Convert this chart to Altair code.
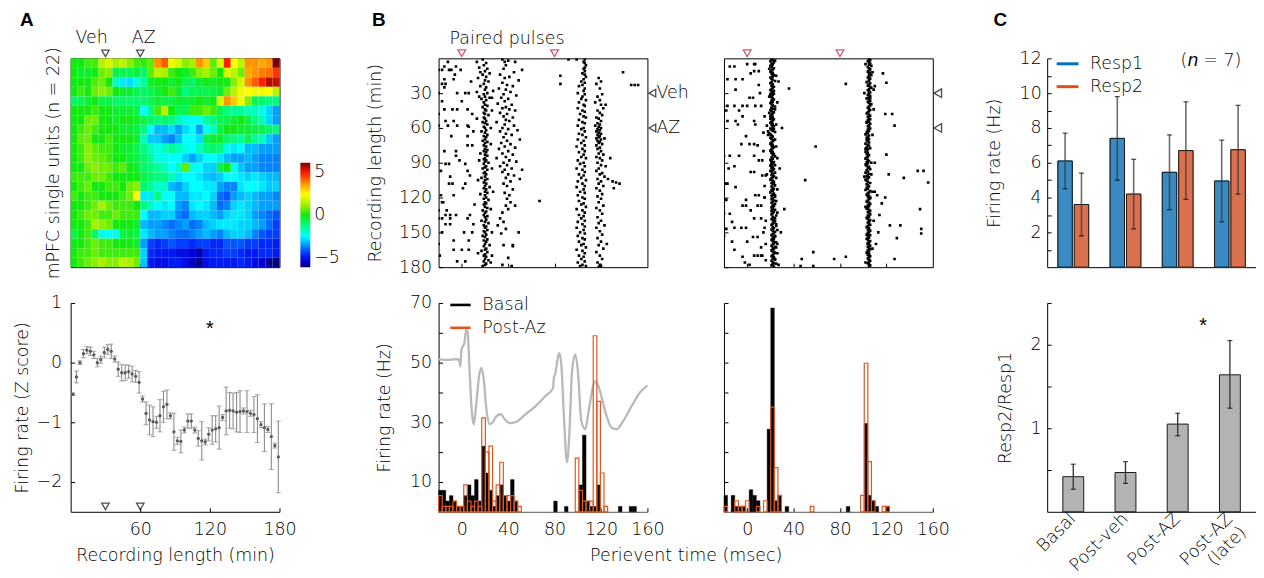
import altair as alt
import pandas as pd

FONT = "DejaVu Sans"
FS = 17.5
FW = 300
TXT = "#000000"
IN = {"expr": "-4"}  # inward ticks

# ---------------- Panel A: heat map (22 units x 30 bins of 6 min) ----------------
heat_rows = [
    [0,0,0.3,0.3,1.2,1.5,1.0,1.2,0.8,0.3,0.2,0.5,3,3.5,1.8,1.5,0.8,1,3,2.5,0.5,1.5,4,2,1.2,3,3,2.8,3,5],
    [0,-0.3,-0.3,0,0.6,0.8,-0.5,-0.6,-0.6,-0.4,-0.8,0.5,1.2,1.0,0.3,0,-0.2,0.3,0.8,1.0,0.6,0,1.5,1.2,0.6,2.8,3,3.2,3.3,3.8],
    [0,0,0,0.4,0.6,0,-1.5,-2.2,-2.3,-1.8,-1.2,-0.2,0,0,-0.3,0,-0.6,-0.8,-0.3,0,-0.2,0,0,0.8,1.5,3,3.5,4,4.6,4.5],
    [0,0.3,0,0.6,0.8,0.6,0,-0.3,-0.3,-0.6,-0.8,-0.6,-0.3,0,0.3,-0.3,-1,-0.6,-0.6,-0.6,-0.5,-0.3,0.6,1.2,1.8,2,1.8,1.8,2,1.2],
    [-0.8,-0.6,-0.3,0,-0.5,-0.5,-0.8,-0.8,-0.8,-0.9,-0.8,-0.6,-0.3,-0.5,-0.5,-0.3,-0.4,-0.3,0,-0.3,0,1.5,3,2.5,1.8,0.8,-0.6,-0.8,-1,-1],
    [0,0,0,0.3,0,0,-0.3,-0.3,-0.3,-0.5,-2,-1,0.3,1.2,0,-0.6,-0.6,0.3,0.3,0.6,0.3,-0.6,-1,-1.2,-1.2,-1.5,-1.5,-1.8,-2.4,-2.8],
    [0,0,0.6,0.6,0,0,-0.3,0,0,-0.3,-0.5,-0.8,-1,-0.8,-1,-1.5,-1.8,-2,-1.8,-1.3,-1,-0.6,-0.5,-0.3,0,-0.5,-1,-1.5,-2.4,-2.8],
    [0,0.3,0.6,0.3,0,0,0,-0.3,-0.3,-0.5,-1,-2,-2.6,-2.6,-2.3,-2.8,-2.3,-2,-2.8,-2,-1.5,-0.5,0,0,-0.3,-0.3,-0.5,-0.5,-0.8,-1],
    [0,0.5,0.6,0,0,0.3,0,0,0,-0.3,-1.5,-2.5,-2.5,-2.8,-3,-2.6,-2,-2,-2.3,-0.5,-0.3,-0.3,-0.8,-1,-1.2,-0.5,-1.2,-1.5,-2.5,-2.8],
    [0,0.3,0.8,0.5,0.3,0.3,0,-0.3,-0.3,-0.6,-1,-1.5,-1.8,-1.5,-1.2,-1.5,-1.8,-2,-1.5,-1,-0.8,-1,-1.8,-2.2,-2,-2.6,-2.6,-2.8,-2.8,-2.8],
    [0,0.3,0.8,0.6,0.5,0.3,0,0,-0.3,-0.5,-0.8,-1.2,-1.8,-1.8,-2,-2,-2.4,-2.8,-2.4,-2,-2,-2.2,-2.6,-2.8,-2.8,-2.6,-2.8,-3,-3,-3],
    [0,0,0.6,0.8,0.6,0.6,0.3,0.5,0,-0.3,-0.8,-1,-1.2,-1.5,-2,-1.5,0.5,-1.8,-2,-2.4,-2.4,-0.5,0,-1.8,-2.5,-2.8,-2.8,-3,-3,-3],
    [0.3,0.3,0.3,0.6,0.6,0.3,0,0,0,0,-0.5,-0.8,-1,-1,-1.5,-2.2,-2,-2,-2.2,-2.5,-2.6,-2.4,-2,-2,-2.2,-2.4,-2.2,-2.4,-2.6,-2.6],
    [0,0.3,0.6,0,0,0.3,0.3,0,0.6,0.8,-0.8,-1.2,-1.6,-1.5,-2.6,-2.8,-2.4,-2,-2,-2.2,-2.2,-2.8,-3,-3,-2.2,-2,-2,-2.2,-2.5,-2.4],
    [0.3,0,0.3,0.3,0,0,0,0.3,0.6,2,-2.2,-2.2,-1,-2,-2,-2.6,-2.6,-2.2,-2.2,-2,-2.4,-3.2,-3.4,-2.8,-2.6,-2.4,-2.6,-2.8,-2.8,-3],
    [0,0,0.3,0.6,1,0.6,0.3,0.3,0.3,0,-1,-1.5,-2,-2.2,-2,-2.8,-3,-2.2,-2,-2.2,-2.6,-3.2,-3,-2.4,-2.2,-2.4,-2.6,-2.8,-2.8,-2.8],
    [0,0.3,0.6,0.6,0.3,0.3,0.6,0.3,0.3,0.3,-2,-2.6,-2.6,-2.4,-2.4,-3,-3.2,-2.6,-2.4,-2.4,-2.6,-2.8,-2.4,-2.2,-2.2,-2.4,-2.8,-3,-3.2,-3.4],
    [0,0,0.3,1,0.8,0.6,0,0,0,-0.3,-2.6,-2.8,-2.8,-3,-3.2,-3,-2.8,-3.2,-3,-2.6,-2.4,-2.2,-2.2,-2.2,-2.4,-2.4,-2.6,-2.8,-3.2,-3.6],
    [-0.5,0,0.3,-0.8,-1.8,-2,-1.8,-0.5,-0.3,-0.5,-2.2,-2.6,-2.8,-2.8,-3,-3.2,-3.2,-3,-2.8,-2.6,-2.8,-3,-2.6,-2.4,-2.4,-2.6,-3,-3.4,-3.6,-3.6],
    [0,0,0.3,0.6,0.3,0.3,0,0,0,-0.3,-2.8,-3.6,-3.8,-3.6,-3.4,-3.6,-3.6,-3.8,-3.6,-3.6,-3.8,-3.8,-3.4,-3.4,-3.4,-3.6,-3.6,-3.8,-3.8,-4],
    [0,0.3,0.3,0.6,0.3,0.3,0.3,0.3,0.3,0.3,-2.4,-3.8,-4,-4,-4,-4.2,-4.2,-4.4,-4.6,-4,-3.8,-3.8,-3.6,-3.6,-3.8,-4,-4,-3.8,-3.8,-4],
    [0,0.3,0.6,0.8,1,0.8,0.8,1.2,1,0.6,-2.5,-4,-4.2,-4.2,-4,-4,-4.2,-4.6,-4.8,-4.2,-4,-4,-4,-4,-3.8,-4,-4.2,-4.4,-4.8,-5],
]
heat_bin_min = 6

# ---------------- Panel A: z-score time course ----------------
z_time = list(range(2, 180, 3))
z_mean = [-0.53,-0.24,0.00,0.15,0.21,0.19,0.13,0.00,0.05,0.17,0.22,0.19,0.06,-0.11,-0.17,-0.17,-0.15,-0.19,-0.23,-0.33,-0.61,
          -0.85,-0.96,-0.99,-1.00,-0.89,-0.74,-0.70,-0.89,-1.16,-1.31,-1.32,-1.13,-0.98,-0.98,-1.13,-1.27,-1.31,-1.33,-1.20,-1.13,-1.11,-1.09,
          -0.92,-0.81,-0.80,-0.81,-0.83,-0.82,-0.81,-0.82,-0.85,-0.87,-0.94,-1.04,-1.09,-1.12,-1.24,-1.39,-1.58]
z_err = [0.02,0.10,0.03,0.07,0.06,0.07,0.06,0.07,0.06,0.09,0.08,0.12,0.05,0.12,0.14,0.13,0.11,0.13,0.10,0.18,0.05,
         0.19,0.25,0.25,0.10,0.27,0.26,0.24,0.05,0.31,0.06,0.19,0.05,0.12,0.12,0.05,0.13,0.32,0.05,0.11,0.24,0.22,0.36,
         0.05,0.40,0.30,0.30,0.33,0.35,0.05,0.35,0.05,0.30,0.40,0.05,0.40,0.05,0.55,0.04,0.60]
drug_times = [30, 60]

# ---------------- Panel B: rasters (ms, min) ----------------
rasL_band1 = [(18,1),(13,3),(21,4),(19,6),(15,8),(22,9),(20,11),(24,13),(18,14),(21,16),(14,17),(20,19),(23,20),(19,22),(16,24),(21,25),(20,27),(13,29),(22,30),(19,31),(15,33),(20,33),(24,34),(17,35),(21,36),(26,34),(19,38),(20,40),(22,41),(18,42),(20,44),(21,45),(19,47),(20,48),(23,49),(19,51),(20,52),(21,54),(18,55),(20,56),(22,57),(19,59),(20,60),(21,62),(17,63),(20,64),(22,66),(19,67),(21,68),(20,70),(18,71),(22,72),(20,73),(25,74),(19,75),(21,76),(20,78),(22,79),(19,80),(21,81),(16,82),(20,83),(22,84),(20,86),(19,87),(21,88),(20,89),(23,90),(19,91),(21,93),(20,94),(18,95),(22,96),(20,98),(19,99),(21,100),(20,102),(17,103),(22,104),(20,105),(19,107),(21,108),(20,110),(24,111),(19,112),(21,113),(20,115),(22,116),(16,117),(20,118),(21,120),(19,121),(23,122),(20,124),(21,125),(19,126),(20,128),(22,129),(18,131),(21,132),(20,133),(19,135),(22,136),(20,137),(21,139),(17,140),(20,141),(23,142),(19,144),(21,145),(20,146),(22,148),(19,149),(20,150),(21,152),(18,153),(20,154),(22,156),(19,157),(21,158),(20,160),(24,161),(19,162),(21,164),(20,165),(17,166),(22,167),(20,169),(19,170),(21,171),(20,173),(23,174),(19,175),(21,177),(20,178),(18,179),(25,176),(26,170),(14,168),(26,150),(25,130),(27,115),(14,105),(26,95),(15,88),(25,60),(26,45),(13,52),(27,28),(16,12)]
rasL_band2 = [(35,1),(37,3),(40,2),(46,3),(38,6),(52,10),(36,9),(45,12),(33,14),(41,16),(37,17),(49,19),(35,21),(39,23),(44,24),(32,26),(38,27),(42,29),(36,31),(47,32),(34,34),(40,35),(37,37),(31,39),(43,40),(38,42),(35,43),(41,44),(46,45),(33,47),(39,48),(36,50),(44,51),(38,53),(41,54),(30,55),(37,57),(45,58),(35,60),(40,61),(48,62),(33,63),(38,65),(43,66),(36,68),(50,70),(39,71),(34,73),(42,74),(37,76),(46,77),(32,78),(40,80),(35,82),(44,83),(38,85),(30,86),(41,88),(36,90),(47,89),(39,92),(33,93),(43,95),(37,96),(52,96),(35,98),(40,100),(45,101),(38,103),(50,104),(42,106),(36,108),(39,110),(44,113),(37,116),(41,118),(39,121),(42,124),(38,127),(40,130),(35,133),(33,138),(36,141),(31,144),(38,147),(34,151),(36,161),(44,162),(40,172),(35,178),(43,179),(49,150),(46,127)]
rasL_band3 = [(106,1),(105,3),(106,4),(107,6),(106,8),(105,9),(106,11),(104,13),(106,14),(107,16),(105,18),(103,20),(106,21),(104,23),(101,24),(106,26),(105,28),(100,30),(106,31),(104,33),(103,35),(107,36),(101,38),(105,40),(106,41),(100,43),(104,45),(106,46),(102,48),(105,50),(107,51),(101,53),(104,55),(106,56),(100,58),(105,60),(103,61),(106,63),(101,65),(104,66),(107,68),(100,70),(105,71),(103,73),(106,75),(99,76),(104,78),(106,80),(101,81),(105,83),(103,85),(107,86),(100,88),(105,90),(102,91),(106,93),(99,95),(104,96),(106,98),(101,100),(105,101),(103,103),(107,105),(100,106),(104,108),(106,110),(99,111),(105,113),(102,115),(106,116),(100,118),(104,120),(106,121),(101,123),(105,125),(103,126),(107,128),(99,130),(104,131),(106,133),(101,135),(105,136),(103,138),(106,140),(100,141),(104,143),(106,145),(99,146),(105,148),(102,150),(106,151),(100,153),(104,155),(106,156),(101,158),(105,160),(103,161),(107,163),(99,165),(104,166),(106,168),(101,170),(105,171),(103,173),(106,175),(100,176),(104,178),(107,179),(102,179)]
rasL_band4 = [(118,17),(120,20),(116,22),(119,26),(121,31),(117,33),(119,36),(115,38),(120,40),(122,43),(117,45),(119,47),(121,49),(116,51),(118,52),(120,54),(117,56),(119,57),(115,58),(118,59),(120,60),(117,61),(119,62),(116,63),(118,64),(120,65),(117,66),(119,67),(118,68),(116,69),(120,70),(117,71),(119,72),(118,73),(121,74),(116,75),(119,77),(117,78),(120,80),(118,82),(122,83),(116,85),(119,86),(121,88),(117,90),(120,92),(124,93),(118,95),(116,97),(121,99),(119,100),(123,102),(117,104),(120,106),(118,108),(122,110),(116,112),(119,114),(121,117),(117,119),(120,121),(118,124),(122,127),(116,129),(119,131),(121,134),(117,137),(120,140),(118,142),(123,144),(116,146),(119,149),(121,152),(117,155),(120,158),(118,161),(122,164),(116,167),(119,170),(121,173),(117,176),(119,178),(120,179),(118,180)]
rasL_bg = [(-20,10),(-17,10),(-11,10),(-9,10),(-1,10),(-15,7),(-5,7),(-15,18),(-7,18),(-17,22),(-14,22),(-15,25),(-20,30),(-4,30),(3,30),(6,30),(-17,37),(0,37),(-15,44),(-8,44),(-4,44),(5,44),(-20,48),(9,48),(-14,54),(-7,54),(-20,58),(-12,58),(-4,58),(5,58),(6,59),(-9,67),(5,67),(5,75),(9,75),(-15,80),(-5,80),(-5,84),(-14,91),(-11,91),(3,91),(-18,97),(5,97),(7,101),(-11,108),(-8,108),(3,108),(-18,118),(-7,118),(-17,124),(-16,124),(-20,131),(-13,131),(-14,135),(-10,135),(-5,135),(7,135),(-20,138),(-17,138),(-10,138),(5,138),(-14,143),(-10,143),(10,143),(-17,150),(2,150),(9,150),(-7,157),(6,157),(-20,160),(-7,165),(0,165),(6,165),(-4,175),(3,175),(-12,3),(-6,14),(8,20),(10,63),(-2,88),(11,126),(-19,170),(1,112),(-10,102)]
rasL_out = [(85,15),(85,22),(67,123),(139,12),(146,23),(149,23),(152,23),(126,104),(130,106),(133,107),(136,108),(131,112),(92,1),(99,1),(44,161),(128,86),(125,160),(123,69),(124,40)]

rasR_band1 = [21,22,20,23,21,22,20,21,23,22,21,20,22,21,23,22,20,21,22,24,
              21,20,22,21,23,22,21,20,22,21,23,22,20,21,22,23,21,22,20,21,
              22,24,21,22,20,21,23,22,21,20,22,21,23,22,21,20,22,21,23,22,
              20,21,22,24,19,20,21,22,20,21,23,22,21,20,22,21,23,22,21,20,
              22,21,23,22,24,21,22,20,21,23,22,21,20,22,21,23,22,21,24,22,
              21,23,22,21,20,22,23,21,22,24,21,22,23,21,22,20,23,22,21,24,
              22,21,23,22,21,24,22,23,21,22,24,21,23,22,21,25,22,23,21,22,
              24,23,22,21,25,22,23,21,22,24,23,22,21,24,22,23,21,22,25,23,
              22,21,24,22,23,21,22,24,23,22,21,23,22,24,21,22,23,22,21,23]
rasR_band2 = [105,106,104,105,106,105,107,104,105,106,105,104,106,105,107,105,104,106,105,105,
              103,106,105,104,106,107,105,104,105,106,105,104,106,105,103,105,106,104,105,107,
              106,105,104,105,106,105,104,103,105,106,104,105,106,104,105,103,106,105,104,105,
              106,104,105,103,104,102,105,104,103,105,103,104,105,102,104,105,103,106,104,103,
              102,104,103,105,104,103,102,104,105,103,104,102,103,105,104,106,103,104,102,105,
              104,103,105,104,102,103,104,106,103,104,105,103,104,102,106,105,104,103,105,104,
              106,105,104,103,105,106,104,105,104,103,105,106,104,105,106,104,105,103,104,106,
              105,104,105,106,104,103,105,104,106,105,104,105,106,104,105,103,104,106,105,104,
              105,106,104,105,106,104,105,103,105,104,106,105,104,105,106,105,104,105,106,105]
rasR_extra = [(24,2),(19,9),(25,15),(23,28),(19,33),(26,38),(24,44),(20,52),(25,57),(23,61),(18,66),(24,70),(25,76),(21,81),(26,86),(24,92),(20,97),(25,103),(23,108),(26,113),(24,118),(25,123),(22,128),(26,133),(24,138),(25,143),(26,148),(24,153),(23,158),(25,163),(26,168),(24,173),(25,177),(20,31),(19,47),(18,63),(21,90),(22,130),(26,160),(17,100),(16,140),(15,120),(17,58),(14,80),
              (102,5),(108,12),(101,30),(109,44),(103,55),(108,66),(102,78),(107,90),(101,102),(108,115),(102,128),(109,140),(103,152),(108,164),(102,176),(106,34),(104,70),(107,100),(104,160),(106,120)]
rasR_bg = [(-15,7),(-11,7),(0,5),(6,5),(7,5),(3,13),(-17,18),(-10,18),(-4,18),(6,11),(10,11),(10,23),(-10,27),(2,34),(5,34),(-20,41),(-17,41),(-11,41),(-4,41),(0,41),(7,41),(12,41),(-18,45),(-7,45),(-4,50),(15,50),(-17,54),(-10,54),(6,54),(-8,57),(7,57),(-1,67),(-5,74),(2,74),(6,74),(9,75),(-20,84),(-15,84),(-7,84),(6,84),(10,88),(-11,93),(3,98),(6,98),(13,101),(16,101),(-18,108),(-17,108),(-10,111),(7,118),(10,118),(15,120),(-18,122),(-1,122),(-4,127),(-1,127),(9,127),(12,127),(3,131),(-20,134),(-15,134),(6,138),(12,138),(-13,141),(-11,146),(-5,146),(-1,146),(15,146),(-18,147),(-20,153),(5,154),(9,154),(-13,158),(0,158),(12,163),(-11,165),(6,170),(9,170),(12,170),(13,170),(-4,171),(16,174),(2,178),(14,64),(13,88),(15,110),(14,150),(16,160),(11,30),(-2,176),(-16,95)]
rasR_out = [(109,27),(110,24),(117,13),(120,21),(119,48),(125,48),(127,58),(120,83),(122,100),(135,103),(110,115),(112,118),(116,125),(119,120),(123,144),(132,144),(129,155),(113,150),(127,173),(147,97),(152,97),(156,107),(149,130),(150,147),(150,151),(111,160),(114,135),(110,90),
            (36,26),(59,76),(50,105),(85,22),(57,167),(47,173),(75,173),(85,171),(27,178),(46,179),(57,179),(30,60),(28,95),(32,130),(27,20),(29,150)]
pulse_ms = [0, 80]

# ---------------- Panel B: PSTHs (58 bins of 3.1 ms from -20 ms) ----------------
bin_w = 3.1
basal_L = [7.2,7.2,3.6,5.4,3.6,1.8,1.8,5.4,9.0,5.4,10.8,3.6,22.0,13.0,7.2,1.8,5.4,9.0,5.4,3.6,
           10.8,3.6,0,0,0,0,0,0,0,0,0,0,3.6,0,0,1.8,0,0,0,9.0,
           25.7,3.6,1.8,1.8,9.0,0,0,0,0,0,1.8,0,0,1.8,1.8,0,0,0]
postaz_L = [5.4,1.8,1.8,1.8,3.6,1.8,1.8,9.0,3.6,1.8,3.6,1.8,31.5,20.0,22.0,3.6,9.0,16.6,5.4,5.4,
            5.4,3.6,1.8,0,0,0,0,0,0,0,0,0,0,0,0,0,0,0,18.0,7.2,
            3.6,3.6,3.6,59.0,37.0,13.0,1.8,0,0,0,0,0,0,0,0,0,0,0]
basal_R = [5.5,0,5.5,1.8,1.8,1.8,0,7.4,5.5,3.7,0,0,27.7,68.3,3.7,5.5,0,1.8,0,0,
           0,0,0,0,0,0,0,0,0,0,0,0,0,0,1.8,0,0,0,0,29.6,
           5.5,3.7,1.8,0,0,1.8,0,0,0,0,0,0,0,0,0,0,0,0]
postaz_R = [1.8,0,0,3.7,1.8,1.8,3.7,0,0,1.8,0,3.7,0,35.1,14.8,5.5,0,0,0,0,
            0,0,0,0,1.8,0,0,0,0,0,0,0,0,0,0,0,0,0,5.5,49.8,
            16.8,3.7,0,0,1.8,1.8,0,0,0,0,0,0,0,0,0,0,0,0]
wave_ms = [-20,-10.6,-3.5,-2,-1.2,-0.3,0.8,2.2,3.7,4.8,6.5,8.2,10.2,12.2,15.1,17.1,19.1,21.4,24.2,26.5,29.9,33.6,37.0,41.3,46.5,55,63.6,72.1,78.7,79.3,80.7,82.7,84.1,85.8,87.8,90.7,92.7,95,97.8,100.1,103,106.4,109.8,113.5,115.5,118.3,123.5,129.2,133.5,139.2,146.3,153.4,160]
wave_hz = [51.2,50.9,51.2,50.4,48.7,54.3,55.4,56.5,60.9,60.9,49.3,36.0,29.3,34.9,46,48.2,43.7,33.8,29.3,29.9,32.1,32.7,31.0,29.7,30.1,32.7,35.4,38.8,41.5,44.8,46.5,51.5,53.2,49.3,33.8,16.6,26,47,52.8,47,30.5,27.7,34.9,42.6,43.7,41.5,33.8,28.2,27.7,30.5,35.4,39.9,42.4]

# ---------------- Panel C ----------------
groups = ["Basal", "Post-veh", "Post-AZ", "Post-AZ (late)"]
resp1 = [6.1, 7.4, 5.45, 4.95]
resp1_lo = [4.5, 5.0, 3.3, 2.6]
resp1_hi = [7.7, 9.8, 7.6, 7.3]
resp2 = [3.6, 4.2, 6.7, 6.75]
resp2_lo = [1.8, 2.2, 3.9, 4.2]
resp2_hi = [5.4, 6.2, 9.5, 9.3]
ratio = [0.42, 0.47, 1.05, 1.64]
ratio_lo = [0.27, 0.34, 0.91, 1.24]
ratio_hi = [0.57, 0.60, 1.18, 2.05]

W = H = 210

def letter(ch, dx):
    return alt.Chart(pd.DataFrame({"s": [ch]})).mark_text(
        font="Liberation Sans", fontSize=19, fontWeight="bold", align="left", baseline="alphabetic", color="black"
    ).encode(text="s:N", x=alt.value(dx), y=alt.value(-33))

# ---------- A top ----------
recs = []
for r, row in enumerate(heat_rows):
    for c, v in enumerate(row):
        recs.append({"t0": c * heat_bin_min, "t1": (c + 1) * heat_bin_min, "u0": r, "u1": r + 1, "z": v})
heat_df = pd.DataFrame(recs)
cmap = alt.Scale(domain=[-5, -4.4, -3.8, -3.1, -2.5, -2.0, -1.2, 0, 1, 2, 3, 4, 5],
                 range=["#00007a", "#0000d8", "#0028ff", "#0078ff", "#00c8ff", "#00ffff", "#00ff96", "#12ea12",
                        "#a8f000", "#ffff00", "#ff9400", "#ff1e00", "#800000"],
                 interpolate="rgb")
hx = alt.Scale(domain=[0, 180], nice=False, zero=False)
hy = alt.Scale(domain=[0, 22], reverse=True, nice=False, zero=False)
heat = alt.Chart(heat_df).mark_rect().encode(
    x=alt.X("t0:Q", scale=hx, axis=alt.Axis(values=[30, 60, 90, 120, 150], labels=False, title=None,
                                            domain=False, tickSize=IN)),
    x2="t1:Q",
    y=alt.Y("u0:Q", scale=hy, axis=alt.Axis(labels=False, ticks=False, domain=False,
                                            title="mPFC single units (n = 22)", titlePadding=8)),
    y2="u1:Q",
    color=alt.Color("z:Q", scale=cmap, legend=alt.Legend(
        orient="none", legendX=231, legendY=105, direction="vertical", gradientLength=105,
        gradientThickness=10, values=[-5, 0, 5], title=None, labelFontSize=FS, labelFont=FONT,
        labelFontWeight=FW, labelOffset=4, gradientStrokeWidth=0, labelColor=TXT, type="gradient")),
)
tri_df = pd.DataFrame({"t": drug_times, "u": [-0.52, -0.52]})
heat_tri = alt.Chart(tri_df).mark_point(shape="triangle-down", filled=False, color="black",
                                         size=55, strokeWidth=1.3).encode(
    x=alt.X("t:Q", scale=hx), y=alt.Y("u:Q", scale=hy))
heat_lab = alt.Chart(pd.DataFrame({"t": [18, 63], "u": [-2.1, -2.1], "s": ["Veh", "AZ"]})).mark_text(
    baseline="middle").encode(x=alt.X("t:Q", scale=hx), y=alt.Y("u:Q", scale=hy), text="s:N")
A_top = alt.layer(heat, heat_tri, heat_lab, letter("A", -51)).properties(
    width=W, height=H, view=alt.ViewBackground(stroke="black", strokeWidth=1))

# ---------- A bottom ----------
zdf = pd.DataFrame({"t": z_time, "m": z_mean, "lo": [m - e for m, e in zip(z_mean, z_err)],
                    "hi": [m + e for m, e in zip(z_mean, z_err)]})
zx = alt.Scale(domain=[0, 180], nice=False, zero=False)
zy = alt.Scale(domain=[-2.5, 1], nice=False, zero=False)
z_axy = alt.Axis(values=[1, 0.5, 0, -0.5, -1, -1.5, -2], format=".0f",
                 labelExpr="datum.value % 1 == 0 ? datum.label : ''",
                 tickSize=IN, labelPadding=13, title="Firing rate (Z score)", titlePadding=5)
z_axx = alt.Axis(values=[60, 120, 180], tickSize=IN, labelPadding=13, title="Recording length (min)",
                 titlePadding=8)
zbase = alt.Chart(zdf)
z_rule = zbase.mark_rule(color="#8c8c8c", strokeWidth=1.1).encode(
    x=alt.X("t:Q", scale=zx, axis=z_axx), y=alt.Y("lo:Q", scale=zy, axis=z_axy), y2="hi:Q")
z_cap1 = zbase.mark_tick(color="#8c8c8c", size=5, thickness=1.1, orient="horizontal").encode(
    x=alt.X("t:Q", scale=zx), y=alt.Y("hi:Q", scale=zy))
z_cap2 = zbase.mark_tick(color="#8c8c8c", size=5, thickness=1.1, orient="horizontal").encode(
    x=alt.X("t:Q", scale=zx), y=alt.Y("lo:Q", scale=zy))
z_pt = zbase.mark_circle(size=11, color="#5a5a5a", opacity=1).encode(
    x=alt.X("t:Q", scale=zx), y=alt.Y("m:Q", scale=zy))
z_tri = alt.Chart(pd.DataFrame({"t": drug_times, "v": [-2.41, -2.41]})).mark_point(
    shape="triangle-down", filled=False, color="black", size=55, strokeWidth=1.3).encode(
    x=alt.X("t:Q", scale=zx), y=alt.Y("v:Q", scale=zy))
z_star = alt.Chart(pd.DataFrame({"t": [120], "v": [0.56], "s": ["*"]})).mark_text(
    font="Liberation Sans", fontWeight="normal", fontSize=20, baseline="middle").encode(
    x=alt.X("t:Q", scale=zx), y=alt.Y("v:Q", scale=zy), text="s:N")
A_bot = alt.layer(z_rule, z_cap1, z_cap2, z_pt, z_tri, z_star).properties(width=W, height=H)

# ---------- B rasters ----------
rx = alt.Scale(domain=[-20, 160], nice=False, zero=False)
ry = alt.Scale(domain=[0, 180], reverse=True, nice=False, zero=False)

def raster(points, left):
    df = pd.DataFrame(points, columns=["ms", "mn"])
    yax = alt.Axis(values=[30, 60, 90, 120, 150, 180], tickSize=IN, domain=False, labelPadding=11,
                   labels=left, title="Recording length (min)" if left else None, titlePadding=14)
    xax = alt.Axis(values=[0, 20, 40, 60, 80, 100, 120, 140], tickSize=IN, labels=False, domain=False, title=None)
    dots = alt.Chart(df).mark_square(size=7, color="black", opacity=1, clip=True).encode(
        x=alt.X("ms:Q", scale=rx, axis=xax), y=alt.Y("mn:Q", scale=ry, axis=yax))
    pul = alt.Chart(pd.DataFrame({"ms": pulse_ms, "mn": [-4.4, -4.4]})).mark_point(
        shape="triangle-down", filled=False, color="#c8102e", size=60, strokeWidth=1.3).encode(
        x=alt.X("ms:Q", scale=rx), y=alt.Y("mn:Q", scale=ry))
    side = alt.Chart(pd.DataFrame({"ms": [164.3, 164.3], "mn": drug_times})).mark_point(
        shape="triangle-left", filled=False, color="black", size=60 if left else 75, strokeWidth=1.3).encode(
        x=alt.X("ms:Q", scale=rx), y=alt.Y("mn:Q", scale=ry))
    layers = [dots, pul, side]
    if left:
        layers.append(alt.Chart(pd.DataFrame({"ms": [167.8, 167.8], "mn": drug_times, "s": ["Veh", "AZ"]})).mark_text(
            align="left", baseline="middle").encode(
            x=alt.X("ms:Q", scale=rx), y=alt.Y("mn:Q", scale=ry), text="s:N"))
        layers.append(alt.Chart(pd.DataFrame({"ms": [39], "mn": [-17], "s": ["Paired pulses"]})).mark_text(
            baseline="middle").encode(
            x=alt.X("ms:Q", scale=rx), y=alt.Y("mn:Q", scale=ry), text="s:N"))
        layers.append(letter("B", -67))
    return alt.layer(*layers).properties(width=W, height=H,
                                         view=alt.ViewBackground(stroke="black", strokeWidth=1))

ptsL = rasL_band1 + rasL_band2 + rasL_band3 + rasL_band4 + rasL_bg + rasL_out
ptsR = ([(v, i + 0.5) for i, v in enumerate(rasR_band1)] + [(v, i + 0.5) for i, v in enumerate(rasR_band2)]
        + rasR_extra + rasR_bg + rasR_out)
B1_top = raster(ptsL, True)
B2_top = raster(ptsR, False)

# ---------- B PSTHs ----------
hxs = alt.Scale(domain=[-20, 160], nice=False, zero=False)
hys = alt.Scale(domain=[0, 70], nice=False, zero=True)
hstroke = alt.Scale(domain=["Basal", "Post-Az"], range=["black", "#e2561e"])

def psth(basal, post, left):
    rows = []
    for k, (b, p) in enumerate(zip(basal, post)):
        lo = -20 + k * bin_w
        if b > 0:
            rows.append({"lo": lo, "hi": lo + bin_w, "v": b, "v0": 0, "series": "Basal"})
        if p > 0:
            rows.append({"lo": lo, "hi": lo + bin_w, "v": p, "v0": 0, "series": "Post-Az"})
    df = pd.DataFrame(rows)
    leg = alt.Legend(orient="none", legendX=10, legendY=-10, title=None, symbolType="stroke",
                     symbolStrokeWidth=2.6, symbolSize=420, labelFontSize=FS, labelFont=FONT,
                     labelFontWeight=FW, labelOffset=10, rowPadding=2, padding=0, labelColor=TXT) if left else None
    ymin = alt.Axis(orient="left", values=[20, 40, 60], labels=False, domain=False, title=None, tickSize=IN)
    yax = alt.Axis(orient="left", values=[10, 30, 50, 70], labels=left,
                   tickSize=IN, labelPadding=11, title="Firing rate (Hz)" if left else None, titlePadding=16)
    xax = alt.Axis(values=[0, 40, 80, 120, 160], tickSize=IN, labelPadding=13,
                   title="Perievent time (msec)" if left else None, titlePadding=8, titleX=248.5,
                   domainColor="#555555")
    minor = alt.Chart(df).mark_point(opacity=0, size=1).encode(
        x=alt.X("lo:Q", scale=hxs, axis=xax), y=alt.Y("v:Q", scale=hys, axis=ymin))
    layers = [minor]
    if left:
        wdf = pd.DataFrame({"ms": wave_ms, "hz": wave_hz})
        layers.append(alt.Chart(wdf).mark_line(color="#b9b9b9", strokeWidth=2.3, interpolate="monotone").encode(
            x=alt.X("ms:Q", scale=hxs), y=alt.Y("hz:Q", scale=hys, axis=yax)))
    b = alt.Chart(df).transform_filter("datum.series == 'Basal'").mark_bar(fill="black", strokeWidth=0.4).encode(
        x=alt.X("lo:Q", scale=hxs), x2="hi:Q", y=alt.Y("v:Q", scale=hys, axis=None if left else yax), y2="v0:Q",
        stroke=alt.Stroke("series:N", scale=hstroke, legend=leg))
    p = alt.Chart(df).transform_filter("datum.series == 'Post-Az'").mark_bar(filled=False, strokeWidth=1.2).encode(
        x=alt.X("lo:Q", scale=hxs), x2="hi:Q", y=alt.Y("v:Q", scale=hys, axis=None), y2="v0:Q",
        stroke=alt.Stroke("series:N", scale=hstroke, legend=leg))
    layers += [b, p]
    return alt.layer(*layers).resolve_axis(y="independent").resolve_scale(y="shared").properties(width=W, height=H)

B1_bot = psth(basal_L, postaz_L, True)
B2_bot = psth(basal_R, postaz_R, False)

# ---------- C top ----------
crow = []
for g, a, alo, ahi, b, blo, bhi in zip(groups, resp1, resp1_lo, resp1_hi, resp2, resp2_lo, resp2_hi):
    crow.append({"g": g, "resp": "Resp1", "v": a, "v0": 0, "lo": alo, "hi": ahi})
    crow.append({"g": g, "resp": "Resp2", "v": b, "v0": 0, "lo": blo, "hi": bhi})
cdf = pd.DataFrame(crow)
cx = alt.Scale(domain=groups, paddingInner=0.41, paddingOuter=0.205)
cxo = alt.Scale(domain=["Resp1", "Resp2"], paddingInner=0.12, paddingOuter=0)
cy = alt.Scale(domain=[0, 12], nice=False)
cymin = alt.Axis(orient="left", values=[1, 3, 5, 7, 9, 11], labels=False, domain=False, title=None, tickSize=IN)
cyax = alt.Axis(orient="left", values=[2, 4, 6, 8, 10, 12], tickSize=IN, labelPadding=10,
                title="Firing rate (Hz)", titlePadding=16)
cxax = alt.Axis(labels=False, ticks=False, title=None)
cstroke = alt.Scale(domain=["Resp1", "Resp2"], range=["#0072bd", "#d95319"])
cfill = {"Resp1": "#3b8bc2", "Resp2": "#d9714f"}
cleg = alt.Legend(orient="none", legendX=8, legendY=-7, title=None, symbolType="stroke", symbolStrokeWidth=3,
                  symbolSize=480, labelFontSize=FS, labelFont=FONT, labelFontWeight=FW, labelOffset=10,
                  rowPadding=2, padding=0, labelColor=TXT)
cbase = alt.Chart(cdf)
c_minor = cbase.mark_point(opacity=0, size=1).encode(
    x=alt.X("g:N", scale=cx, axis=cxax, sort=groups), y=alt.Y("v:Q", scale=cy, axis=cymin))
c_layers = []
for i, rname in enumerate(["Resp1", "Resp2"]):
    c_layers.append(cbase.transform_filter(f"datum.resp == '{rname}'").mark_bar(
        fill=cfill[rname], strokeWidth=1).encode(
        x=alt.X("g:N", scale=cx, sort=groups), xOffset=alt.XOffset("resp:N", scale=cxo),
        y=alt.Y("v:Q", scale=cy, axis=cyax if i == 0 else None, stack=None), y2="v0:Q",
        stroke=alt.Stroke("resp:N", scale=cstroke, legend=cleg)))
c_out = cbase.mark_bar(filled=False, stroke="#1a1a1a", strokeWidth=1).encode(
    x=alt.X("g:N", scale=cx, sort=groups), xOffset=alt.XOffset("resp:N", scale=cxo),
    y=alt.Y("v:Q", scale=cy, axis=None, stack=None), y2="v0:Q")
c_err = cbase.mark_rule(color="#3a3a3a", strokeWidth=1.6, opacity=0.75).encode(
    x=alt.X("g:N", scale=cx, sort=groups), xOffset=alt.XOffset("resp:N", scale=cxo),
    y=alt.Y("lo:Q", scale=cy, axis=None), y2="hi:Q")
c_cap1 = cbase.mark_tick(color="black", size=5, thickness=1.2).encode(
    x=alt.X("g:N", scale=cx, sort=groups), xOffset=alt.XOffset("resp:N", scale=cxo),
    y=alt.Y("hi:Q", scale=cy, axis=None))
c_cap2 = cbase.mark_tick(color="black", size=5, thickness=1.2).encode(
    x=alt.X("g:N", scale=cx, sort=groups), xOffset=alt.XOffset("resp:N", scale=cxo),
    y=alt.Y("lo:Q", scale=cy, axis=None))
c_n1 = alt.Chart(pd.DataFrame({"s": ["("]})).mark_text(align="left", baseline="middle").encode(
    text="s:N", x=alt.value(134), y=alt.value(3))
c_n2 = alt.Chart(pd.DataFrame({"s": ["n"]})).mark_text(align="left", baseline="middle",
                                                      fontStyle="italic").encode(
    text="s:N", x=alt.value(141), y=alt.value(3))
c_n3 = alt.Chart(pd.DataFrame({"s": ["= 7)"]})).mark_text(align="left", baseline="middle").encode(
    text="s:N", x=alt.value(157), y=alt.value(3))
C_top = alt.layer(c_minor, *c_layers, c_out, c_err, c_cap1, c_cap2, c_n1, c_n2, c_n3, letter("C", -54)).resolve_axis(
    y="independent").resolve_scale(y="shared").properties(width=W, height=H)

# ---------- C bottom ----------
rdf = pd.DataFrame({"g": groups, "v": ratio, "lo": ratio_lo, "hi": ratio_hi})
rx2 = alt.Scale(domain=groups, paddingInner=0.6, paddingOuter=0.3)
ry2 = alt.Scale(domain=[0, 2.5], nice=False)
ryax = alt.Axis(values=[0.5, 1, 1.5, 2, 2.5], format=".0f", labelExpr="datum.value % 1 == 0 ? datum.label : ''",
                tickSize=IN, labelPadding=10, title="Resp2/Resp1", titlePadding=16)
rxax = alt.Axis(ticks=False, title=None, labelAngle=-45, labelAlign="right", labelBaseline="middle",
                labelPadding=4,
                labelExpr="datum.value == 'Post-AZ (late)' ? ['Post-AZ', '(late)'] : datum.label")
rbase = alt.Chart(rdf)
r_bar = rbase.mark_bar(color="#b3b3b3", stroke="#1a1a1a", strokeWidth=1).encode(
    x=alt.X("g:N", scale=rx2, axis=rxax, sort=groups), y=alt.Y("v:Q", scale=ry2, axis=ryax))
r_err = rbase.mark_rule(color="#3a3a3a", strokeWidth=1.4).encode(
    x=alt.X("g:N", scale=rx2, sort=groups), y=alt.Y("lo:Q", scale=ry2), y2="hi:Q")
r_cap1 = rbase.mark_tick(color="black", size=5, thickness=1.2).encode(
    x=alt.X("g:N", scale=rx2, sort=groups), y=alt.Y("hi:Q", scale=ry2))
r_cap2 = rbase.mark_tick(color="black", size=5, thickness=1.2).encode(
    x=alt.X("g:N", scale=rx2, sort=groups), y=alt.Y("lo:Q", scale=ry2))
r_star = alt.Chart(pd.DataFrame({"g": ["Post-AZ (late)"], "v": [2.22], "s": ["*"]})).mark_text(
    font="Liberation Sans", fontWeight="normal", fontSize=20, baseline="middle", dx=-27).encode(
    x=alt.X("g:N", scale=rx2, sort=groups), y=alt.Y("v:Q", scale=ry2), text="s:N")
C_bot = alt.layer(r_bar, r_err, r_cap1, r_cap2, r_star).properties(width=W, height=H)

def spacer(w):
    return alt.Chart(pd.DataFrame({"a": [0]})).mark_point(opacity=0, size=1).encode(
        x=alt.value(1), y=alt.value(1)).properties(width=w, height=H)

charts = [A_top, spacer(160), B1_top, spacer(77), B2_top, spacer(115), C_top,
          A_bot, spacer(160), B1_bot, spacer(77), B2_bot, spacer(115), C_bot]

chart = alt.concat(*charts, columns=7, spacing={"row": 36, "column": 0}, bounds="flush", align="each").resolve_scale(
    x="independent", y="independent", color="independent", stroke="independent", fill="independent"
).properties(
    padding={"left": 5, "top": 0, "right": 0, "bottom": 0}
).configure_view(stroke=None).configure_axis(
    labelFont=FONT, labelFontSize=FS, labelColor=TXT, labelFontWeight=FW, titleFont=FONT, titleFontSize=FS,
    titleColor=TXT, titleFontWeight=FW, domainColor="black", tickColor="black", grid=False,
    domainWidth=1, tickWidth=1, labelFlush=False, labelOverlap=False
).configure_text(font=FONT, fontSize=FS, fontWeight=FW, color=TXT).configure_legend(labelFont=FONT)

chart.save("out.html", embed_options={"renderer": "svg", "actions": False})
